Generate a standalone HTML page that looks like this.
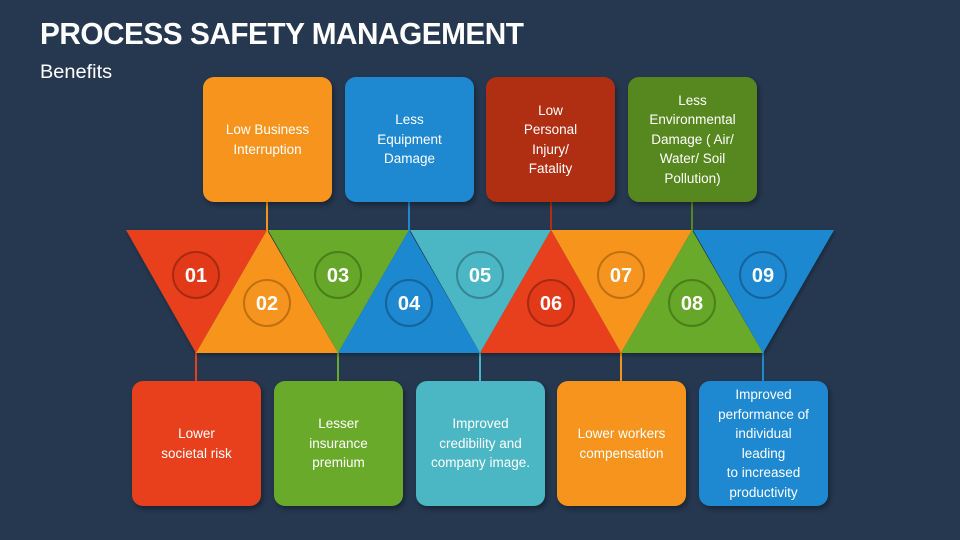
<!DOCTYPE html>
<html><head><meta charset="utf-8"><style>
body{margin:0;width:960px;height:540px;background:#253850;overflow:hidden;position:relative;font-family:"Liberation Sans",sans-serif}
.t{position:absolute;left:40px;top:16px;color:#fff;font-weight:bold;font-size:31px;letter-spacing:-0.5px;transform:scaleX(0.96);transform-origin:left top}
.s{position:absolute;left:40px;top:62px;color:#fff;font-size:19px;transform:scaleX(1.05);transform-origin:left top}
.b{position:absolute;width:129px;height:125px;border-radius:11px;color:#fff;font-size:13.5px;line-height:19.5px;display:flex;align-items:center;justify-content:center;text-align:center;box-shadow:2px 3px 5px rgba(0,0,0,.35)}
svg{position:absolute;left:0;top:0}
</style></head><body>
<div class="t">PROCESS SAFETY MANAGEMENT</div>
<div class="s">Benefits</div>
<svg width="960" height="540">
<defs><filter id="sh"><feDropShadow dx="1" dy="2" stdDeviation="2" flood-opacity="0.35"/></filter></defs>
<g stroke-width="2">
<line x1="267" y1="200" x2="267" y2="232" stroke="#f7941d"/>
<line x1="409" y1="200" x2="409" y2="232" stroke="#1e88d0"/>
<line x1="551" y1="200" x2="551" y2="232" stroke="#b02e12"/>
<line x1="692" y1="200" x2="692" y2="232" stroke="#57881f"/>
<line x1="196" y1="350" x2="196" y2="384" stroke="#e8401c"/>
<line x1="338" y1="350" x2="338" y2="384" stroke="#6aaa2a"/>
<line x1="480" y1="350" x2="480" y2="384" stroke="#4bb6c4"/>
<line x1="621" y1="350" x2="621" y2="384" stroke="#f7941d"/>
<line x1="763" y1="350" x2="763" y2="384" stroke="#1e88d0"/>
</g>
<g filter="url(#sh)">
<polygon points="126,230 267,230 196,353" fill="#e8401c"/>
<polygon points="268,230 409,230 338,353" fill="#6aaa2a"/>
<polygon points="410,230 551,230 480,353" fill="#4bb6c4"/>
<polygon points="551,230 692,230 621,353" fill="#f7941d"/>
<polygon points="693,230 834,230 763,353" fill="#1e88d0"/>
<polygon points="196,353 338,353 267,230" fill="#f7941d"/>
<polygon points="338,353 480,353 409,230" fill="#1e88d0"/>
<polygon points="480,353 621,353 551,230" fill="#e8401c"/>
<polygon points="621,353 763,353 692,230" fill="#6aaa2a"/>
</g>
<g stroke-width="2" font-family="Liberation Sans" font-weight="bold" font-size="20" fill="#fff" text-anchor="middle">
<circle cx="196" cy="275" r="23" fill="#e23a18" stroke="#a82a10"/>
<circle cx="267" cy="303" r="23" fill="#f59520" stroke="#c0700e"/>
<circle cx="338" cy="275" r="23" fill="#66a628" stroke="#4a7f1a"/>
<circle cx="409" cy="303" r="23" fill="#1e88d0" stroke="#15649c"/>
<circle cx="480" cy="275" r="23" fill="#4bb6c4" stroke="#358893"/>
<circle cx="551" cy="303" r="23" fill="#e23a18" stroke="#a82a10"/>
<circle cx="621" cy="275" r="23" fill="#f59520" stroke="#c0700e"/>
<circle cx="692" cy="303" r="23" fill="#66a628" stroke="#4a7f1a"/>
<circle cx="763" cy="275" r="23" fill="#1e88d0" stroke="#15649c"/>
<g stroke="none">
<text x="196" y="282">01</text><text x="267" y="310">02</text><text x="338" y="282">03</text>
<text x="409" y="310">04</text><text x="480" y="282">05</text><text x="551" y="310">06</text>
<text x="621" y="282">07</text><text x="692" y="310">08</text><text x="763" y="282">09</text>
</g></g>
</svg>
<div class="b" style="left:203px;top:77px;background:#f7941d">Low Business<br>Interruption</div>
<div class="b" style="left:345px;top:77px;background:#1e88d0">Less<br>Equipment<br>Damage</div>
<div class="b" style="left:486px;top:77px;background:#b02e12">Low<br>Personal<br>Injury/<br>Fatality</div>
<div class="b" style="left:628px;top:77px;background:#57881f">Less<br>Environmental<br>Damage ( Air/<br>Water/ Soil<br>Pollution)</div>
<div class="b" style="left:132px;top:381px;background:#e8401c">Lower<br>societal risk</div>
<div class="b" style="left:274px;top:381px;background:#6aaa2a">Lesser<br>insurance<br>premium</div>
<div class="b" style="left:416px;top:381px;background:#4bb6c4">Improved<br>credibility and<br>company image.</div>
<div class="b" style="left:557px;top:381px;background:#f7941d">Lower workers<br>compensation</div>
<div class="b" style="left:699px;top:381px;background:#1e88d0">Improved<br>performance of<br>individual<br>leading<br>to increased<br>productivity</div>
</body></html>
